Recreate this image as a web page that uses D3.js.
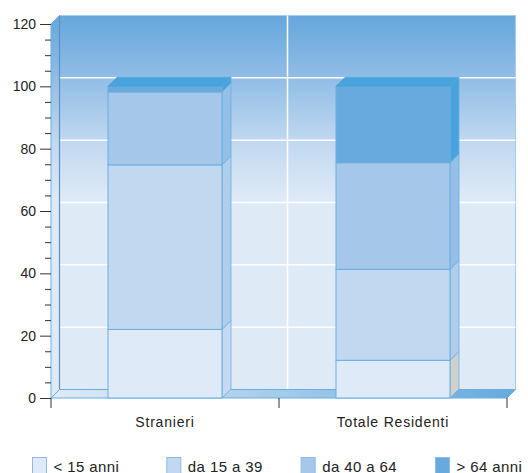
<!DOCTYPE html>
<html>
<head>
<meta charset="utf-8">
<script src="https://cdn.jsdelivr.net/npm/d3@7/dist/d3.min.js"></script>
<style>
  html, body { margin: 0; padding: 0; background: #fff; }
  svg { display: block; }
  text { font-family: "Helvetica Neue", "Liberation Sans", Arial, sans-serif; fill: #222; }
</style>
</head>
<body>
<svg id="chart" width="528" height="473"></svg>
<script>
// Age structure (%) of foreign vs total residents
const categories = ["Stranieri", "Totale Residenti"];
const ageGroups = ["< 15 anni", "da 15 a 39", "da 40 a 64", "> 64 anni"];
const under15   = [22.0, 12.1];
const from15to39 = [52.8, 29.2];
const from40to64 = [23.4, 34.2];
const over64    = [1.8, 24.5];
const yTicks = [0, 20, 40, 60, 80, 100, 120];

const series = [under15, from15to39, from40to64, over64];

// Appearance
const frontFill = ["#deeaf7", "#c2d8f0", "#a5c7ea", "#68aade"];
const sideFill  = ["#c5daf0", "#b0cdec", "#94bfe7", "#48a3dc"];
const topFill = "#48a3dc";
const edge = "#6aaee0";

const svg = d3.select("#chart");
const plotL = 51, plotR = 507, plotB = 398, plotT = 24;
const wallD = 8.5;   // depth of the back wall
const barD = 9;      // depth of each bar

const y = d3.scaleLinear().domain([0, 120]).range([plotB, plotT]);
const x = d3.scaleBand().domain(categories).range([plotL, plotR]).paddingInner(0).paddingOuter(0);

const defs = svg.append("defs");
const wallGrad = defs.append("linearGradient")
  .attr("id", "wallGrad").attr("gradientUnits", "userSpaceOnUse")
  .attr("x1", 0).attr("y1", plotT - wallD).attr("x2", 0).attr("y2", 200);
[[0, "#65a7dc"], [0.33, "#90bce5"], [0.67, "#bfd7f0"], [1, "#dfeaf7"]]
  .forEach(([o, c]) => wallGrad.append("stop").attr("offset", o).attr("stop-color", c));

const floorGrad = defs.append("linearGradient")
  .attr("id", "floorGrad").attr("gradientUnits", "userSpaceOnUse")
  .attr("x1", plotL).attr("y1", 0).attr("x2", plotR + wallD).attr("y2", 0);
[[0, "#dfeaf7"], [1, "#66aade"]]
  .forEach(([o, c]) => floorGrad.append("stop").attr("offset", o).attr("stop-color", c));

const pts = p => p.map(d => d.join(",")).join(" ");

// Back wall
svg.append("rect")
  .attr("x", plotL + wallD).attr("y", plotT - wallD)
  .attr("width", plotR - plotL).attr("height", plotB - plotT)
  .attr("fill", "url(#wallGrad)")
  .attr("stroke", "#9fcdef").attr("stroke-width", 1);

// Horizontal grid on the back wall
svg.append("g").selectAll("line")
  .data(yTicks.filter(v => v > 0 && v < 120))
  .join("line")
  .attr("x1", plotL + wallD).attr("x2", plotR + wallD)
  .attr("y1", d => y(d) - wallD).attr("y2", d => y(d) - wallD)
  .attr("stroke", "#fff").attr("stroke-width", 1.5);

// Vertical grid line between categories
svg.append("g").selectAll("line")
  .data(categories.slice(1))
  .join("line")
  .attr("x1", d => x(d) + wallD).attr("x2", d => x(d) + wallD)
  .attr("y1", plotT - wallD).attr("y2", plotB - wallD)
  .attr("stroke", "#fff").attr("stroke-width", 1.5);

// Left side wall
svg.append("polygon")
  .attr("points", pts([[plotL, plotT], [plotL + wallD, plotT - wallD], [plotL + wallD, plotB - wallD], [plotL, plotB]]))
  .attr("fill", "url(#wallGrad)")
  .attr("stroke", edge).attr("stroke-width", 1);
svg.append("line")
  .attr("x1", plotL + wallD).attr("x2", plotL + wallD)
  .attr("y1", plotT - wallD).attr("y2", plotB - wallD)
  .attr("stroke", "#5f8fbf").attr("stroke-width", 1.2);

// Floor
svg.append("polygon")
  .attr("points", pts([[plotL, plotB], [plotL + wallD, plotB - wallD], [plotR + wallD, plotB - wallD], [plotR, plotB]]))
  .attr("fill", "url(#floorGrad)")
  .attr("stroke", edge).attr("stroke-width", 1);

// Stacked 3D bars
const barW = x.bandwidth() * 0.5;
const barsG = svg.append("g");
categories.forEach((cat, ci) => {
  const x0 = x(cat) + (x.bandwidth() - barW) / 2;
  const x1 = x0 + barW;
  let acc = 0;
  series.forEach((s, si) => {
    const v0 = acc, v1 = acc + s[ci];
    acc = v1;
    const yb = y(v0), yt = y(v1);
    const g = barsG.append("g").attr("class", "seg");
    // a shadowed side on the youngest group of the total population
    const side = (si === 0 && ci === 1) ? "#d0d0d0" : sideFill[si];
    g.append("polygon")
      .attr("points", pts([[x1, yb], [x1 + barD, yb - barD], [x1 + barD, yt - barD], [x1, yt]]))
      .attr("fill", side).attr("stroke", edge).attr("stroke-width", 0.8);
    g.append("rect")
      .attr("x", x0).attr("y", yt).attr("width", barW).attr("height", yb - yt)
      .attr("fill", frontFill[si]).attr("stroke", edge).attr("stroke-width", 1);
    if (si === series.length - 1) {
      g.append("polygon")
        .attr("points", pts([[x0, yt], [x0 + barD, yt - barD], [x1 + barD, yt - barD], [x1, yt]]))
        .attr("fill", topFill).attr("stroke", "#4aa4dc").attr("stroke-width", 0.8);
    }
  });
});

// Y axis: major ticks with labels, minor ticks every 5
const yAxis = d3.axisLeft(y).tickValues(yTicks).tickSize(11).tickPadding(4);
const yg = svg.append("g").attr("transform", `translate(${plotL},0)`).call(yAxis);
yg.select(".domain").remove();
yg.selectAll(".tick line").attr("stroke", "#333");
yg.selectAll(".tick text").attr("font-size", 14).attr("fill", "#222")
  .style("font-family", '"Helvetica Neue", "Liberation Sans", Arial, sans-serif');

const minor = d3.range(0, 121, 5).filter(v => v % 20 !== 0);
const yMinor = d3.axisLeft(y).tickValues(minor).tickSize(6).tickFormat("");
const ymg = svg.append("g").attr("transform", `translate(${plotL},0)`).call(yMinor);
ymg.select(".domain").remove();
ymg.selectAll(".tick line").attr("stroke", "#333");

// X axis: ticks on band boundaries, labels centred under each band
const xg = svg.append("g");
const boundaries = [plotL].concat(categories.map(c => x(c) + x.bandwidth()));
xg.selectAll("line").data(boundaries).join("line")
  .attr("x1", d => d).attr("x2", d => d)
  .attr("y1", plotB).attr("y2", plotB + 10)
  .attr("stroke", "#333").attr("stroke-width", 1);
xg.selectAll("text").data(categories).join("text")
  .attr("x", d => x(d) + x.bandwidth() / 2)
  .attr("y", plotB + 29)
  .attr("text-anchor", "middle")
  .attr("font-size", 14)
  .attr("letter-spacing", 0.8)
  .text(d => d);

// Legend
const legendX = d3.scalePoint().domain(ageGroups).range([32, 435]);
const lg = svg.append("g").selectAll("g").data(ageGroups).join("g")
  .attr("transform", d => `translate(${legendX(d)},457)`);
lg.append("rect")
  .attr("x", 0.5).attr("y", 0.5).attr("width", 14).attr("height", 16)
  .attr("fill", (d, i) => frontFill[i]).attr("stroke", "#8dbbe6").attr("stroke-width", 1);
lg.append("text")
  .attr("x", 21.5).attr("y", 14.7)
  .attr("font-size", 15)
  .attr("letter-spacing", 0.4)
  .text(d => d);
</script>
</body>
</html>
